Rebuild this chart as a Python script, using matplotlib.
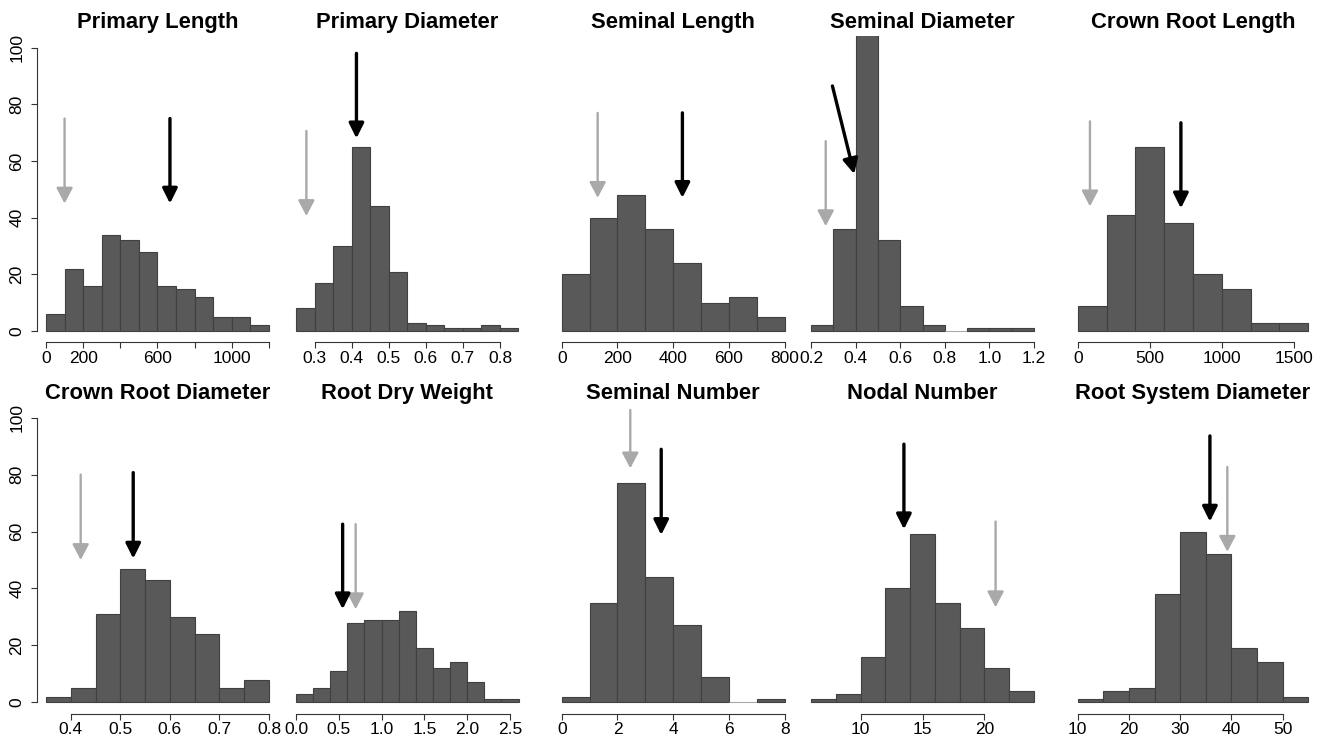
import numpy as np
import matplotlib
matplotlib.use('Agg')
import matplotlib.pyplot as plt

plt.rcParams['font.family'] = ['Liberation Sans', 'DejaVu Sans']

# panel titles, row by row
titles = ['Primary Length', 'Primary Diameter', 'Seminal Length', 'Seminal Diameter', 'Crown Root Length',
          'Crown Root Diameter', 'Root Dry Weight', 'Seminal Number', 'Nodal Number', 'Root System Diameter']

# histogram bins: first break and bin width, then counts per bin
bin_start = [0, 0.25, 0, 0.2, 0, 0.35, 0, 0, 6, 10]
bin_width = [100, 0.05, 100, 0.1, 200, 0.05, 0.2, 1, 2, 5]

counts = [
    [6, 22, 16, 34, 32, 28, 16, 15, 12, 5, 5, 2],
    [8, 17, 30, 65, 44, 21, 3, 2, 1, 1, 2, 1],
    [20, 40, 48, 36, 24, 10, 12, 5],
    [2, 36, 108, 32, 9, 2, 0, 1, 1, 1],
    [9, 41, 65, 38, 20, 15, 3, 3],
    [2, 5, 31, 47, 43, 30, 24, 5, 8],
    [3, 5, 11, 28, 29, 29, 32, 19, 12, 14, 7, 1, 1],
    [2, 35, 77, 44, 27, 9, 0, 1],
    [1, 3, 16, 40, 59, 35, 26, 12, 4],
    [1, 4, 5, 38, 60, 52, 19, 14, 2],
]

x_ticks = [
    [0, 200, 400, 600, 800, 1000, 1200],
    [0.3, 0.4, 0.5, 0.6, 0.7, 0.8],
    [0, 200, 400, 600, 800],
    [0.2, 0.4, 0.6, 0.8, 1.0, 1.2],
    [0, 500, 1000, 1500],
    [0.4, 0.5, 0.6, 0.7, 0.8],
    [0.0, 0.5, 1.0, 1.5, 2.0, 2.5],
    [0, 2, 4, 6, 8],
    [10, 15, 20],
    [10, 20, 30, 40, 50],
]
x_labels = [
    ['0', '200', '', '600', '', '1000', ''],
    ['0.3', '0.4', '0.5', '0.6', '0.7', '0.8'],
    ['0', '200', '400', '600', '800'],
    ['0.2', '0.4', '0.6', '0.8', '1.0', '1.2'],
    ['0', '500', '1000', '1500'],
    ['0.4', '0.5', '0.6', '0.7', '0.8'],
    ['0.0', '0.5', '1.0', '1.5', '2.0', '2.5'],
    ['0', '2', '4', '6', '8'],
    ['10', '15', '20'],
    ['10', '20', '30', '40', '50'],
]

y_ticks = [0, 20, 40, 60, 80, 100]

# grey arrows (vertical): x, start height, tip height
gray_x = [100, 0.278, 129, 0.266, 85, 0.42, 0.697, 2.46, 20.9, 39.2]
gray_from = [75, 70.6, 77, 67, 74, 80, 62.6, 102.7, 63.5, 82.7]
gray_to = [45, 40.6, 47, 37, 44, 50, 32.7, 82.2, 33.4, 52.9]

# black arrows: start x, tip x, start height, tip height
black_x_from = [667, 0.413, 433, 0.296, 716, 0.526, 0.545, 3.57, 13.5, 35.8]
black_x_to = [667, 0.413, 433, 0.394, 716, 0.526, 0.545, 3.57, 13.5, 35.8]
black_from = [75, 98, 77, 86.5, 73.5, 80.7, 62.6, 88.9, 90.7, 93.6]
black_to = [45, 68, 47, 55.4, 43.3, 50.5, 32.7, 58.8, 60.8, 63.5]

W, H = 1331, 735
fig = plt.figure(figsize=(W / 100, H / 100), dpi=100)

# layout in pixels: where the bars of each column start and how wide they span
col_left = [46, 296, 561.7, 811, 1077.7]
col_span = [223, 222.5, 223, 223, 230.6]
row_zero = [331, 702.3]      # pixel of count 0
row_hundred = [47.7, 417.7]  # pixel of count 100

bar_color = '#595959'
gray_arrow = '#a9a9a9'

for i in range(10):
    r, c = divmod(i, 5)
    n = len(counts[i])
    lo = bin_start[i]
    hi = lo + n * bin_width[i]
    ext = 0.04 * (hi - lo)

    span = col_span[c]
    ax_left = col_left[c] - 0.04 * span
    ax_w = 1.08 * span
    yspan = row_zero[r] - row_hundred[r]
    ax_bottom = row_zero[r] + 0.04 * yspan
    ax_top = row_hundred[r] - 0.04 * yspan

    ax = fig.add_axes([ax_left / W, 1 - ax_bottom / H, ax_w / W, (ax_bottom - ax_top) / H])
    ax.set_xlim(lo - ext, hi + ext)
    ax.set_ylim(-4, 104)

    edges = lo + np.arange(n) * bin_width[i]
    ecols = ['#aaaaaa' if v == 0 else '#404040' for v in counts[i]]
    ax.bar(edges, counts[i], width=bin_width[i], align='edge',
           color=bar_color, edgecolor=ecols, linewidth=0.8)

    # arrows
    ax.annotate('', xy=(gray_x[i], gray_to[i]), xytext=(gray_x[i], gray_from[i]),
                arrowprops=dict(arrowstyle='-|>,head_length=0.95,head_width=0.5',
                                mutation_scale=10, color=gray_arrow, lw=1.7,
                                shrinkA=0, shrinkB=0))
    ax.annotate('', xy=(black_x_to[i], black_to[i]), xytext=(black_x_from[i], black_from[i]),
                arrowprops=dict(arrowstyle='-|>,head_length=0.9,head_width=0.45',
                                mutation_scale=10, color='black', lw=2.4,
                                shrinkA=0, shrinkB=0))

    for s in ['top', 'right']:
        ax.spines[s].set_visible(False)
    ax.spines['bottom'].set_bounds(x_ticks[i][0], x_ticks[i][-1])
    ax.spines['bottom'].set_color('#333333')
    ax.spines['bottom'].set_linewidth(0.8)
    ax.set_xticks(x_ticks[i])
    ax.set_xticklabels(x_labels[i])
    ax.tick_params(axis='x', length=4, width=0.8, pad=2, labelsize=12.5, color='#333333')

    if c == 0:
        ax.spines['left'].set_bounds(0, 100)
        ax.spines['left'].set_color('#333333')
        ax.spines['left'].set_linewidth(0.8)
        ax.set_yticks(y_ticks)
        ax.set_yticklabels([str(v) for v in y_ticks], rotation=90, va='center')
        ax.tick_params(axis='y', length=4, width=0.8, pad=5, labelsize=12.5, color='#333333')
    else:
        ax.spines['left'].set_visible(False)
        ax.set_yticks([])

    title_y = [22.7, 394][r]
    fig.text((ax_left + ax_w / 2) / W, 1 - title_y / H, titles[i], ha='center', va='center',
             fontsize=15.8, fontweight='bold')

fig.savefig('out.png', dpi=100)
